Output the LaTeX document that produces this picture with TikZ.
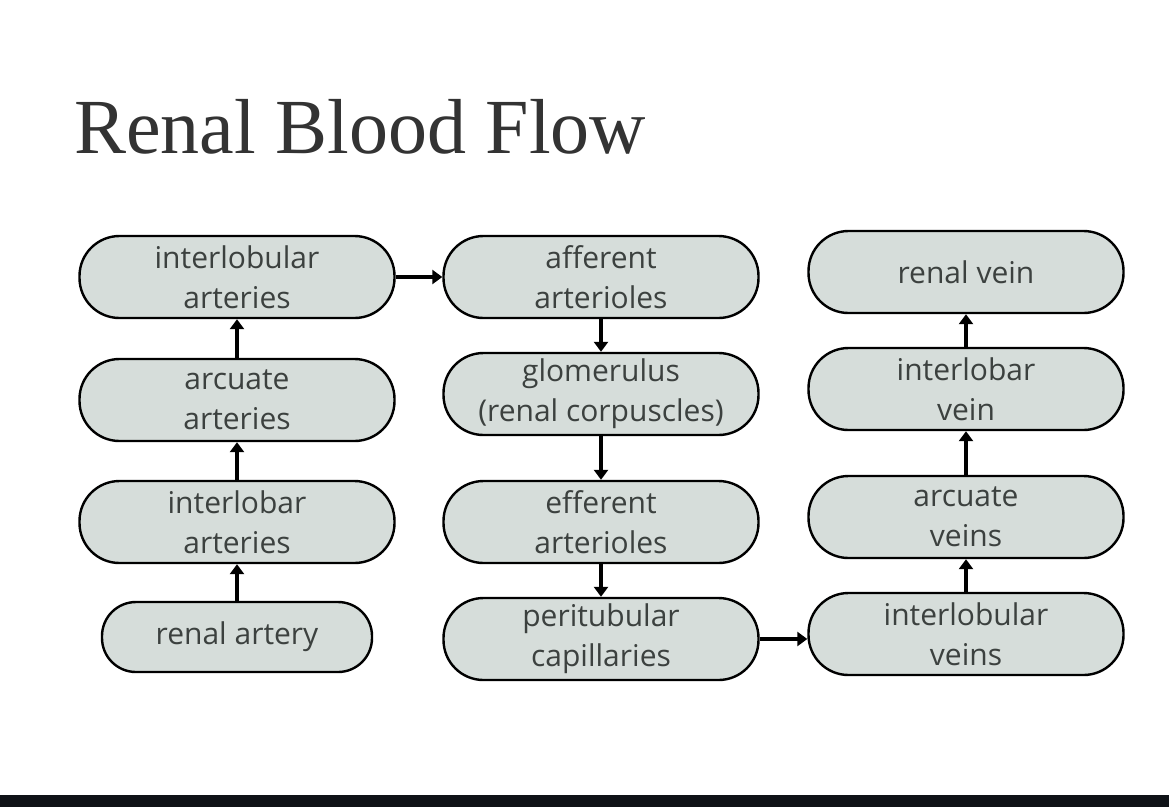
\documentclass[tikz,border=0pt]{standalone}
\usepackage{fontspec}
\setmainfont{Open Sans}
\newfontfamily\titlefont{Liberation Serif}
\usetikzlibrary{arrows.meta}
\definecolor{boxfill}{HTML}{D6DDDA}
\definecolor{boxtext}{HTML}{3C413F}
\definecolor{titlegray}{HTML}{333333}
\definecolor{footbar}{HTML}{0F1217}

\begin{document}
\begin{tikzpicture}[x=1pt, y=-1pt, line width=2.4pt, >={Triangle[length=10pt,width=14pt]},
  vessel/.style={draw=black, fill=boxfill, text=boxtext, rounded corners=40pt,
    minimum width=315pt, minimum height=82pt, align=center, inner sep=0pt,
    font=\fontsize{30}{40}\selectfont},
  flow/.style={->, line width=3.5pt}]
  \useasboundingbox (0,0) rectangle (1169,807);
  \fill[white] (0,0) rectangle (1169,807);
  \fill[footbar] (0,795) rectangle (1169,807);
  \node[anchor=base west, inner sep=0pt, text=titlegray,
    font=\titlefont\fontsize{78}{80}\selectfont] (title) at (73,153) {Renal Blood Flow};

  % arteries
  \node[vessel] (ilbart) at (237,277) {interlobular\\arteries};
  \node[vessel] (arcart) at (237,400) {arcuate\\arteries};
  \node[vessel] (ilrart) at (237,522) {interlobar\\arteries};
  \node[vessel, minimum width=270pt, minimum height=70pt, rounded corners=34pt] (renart) at (237,637) {renal artery};

  % arterioles and capillaries
  \node[vessel] (affer) at (601,277) {afferent\\arterioles};
  \node[vessel] (glom) at (601,394) {glomerulus\\(renal corpuscles)};
  \node[vessel] (effer) at (601,522) {efferent\\arterioles};
  \node[vessel] (peri) at (601,639) {peritubular\\capillaries};

  % veins
  \node[vessel] (renvein) at (966,272) {renal vein};
  \node[vessel] (ilrvein) at (966,389) {interlobar\\vein};
  \node[vessel] (arcvein) at (966,517) {arcuate\\veins};
  \node[vessel] (ilbvein) at (966,634) {interlobular\\veins};

  \draw[flow] (renart) -- (ilrart);
  \draw[flow] (ilrart) -- (arcart);
  \draw[flow] (arcart) -- (ilbart);
  \draw[flow] (ilbart) -- (affer);
  \draw[flow] (affer) -- (glom);
  \draw[flow] (glom) -- (effer);
  \draw[flow] (effer) -- (peri);
  \draw[flow] (peri.east) -- (peri.east -| ilbvein.west);
  \draw[flow] (ilbvein) -- (arcvein);
  \draw[flow] (arcvein) -- (ilrvein);
  \draw[flow] (ilrvein) -- (renvein);
\end{tikzpicture}
\end{document}
